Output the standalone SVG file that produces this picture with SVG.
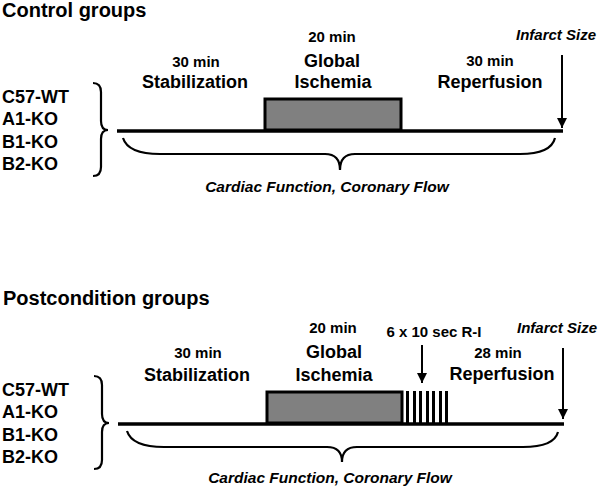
<svg xmlns="http://www.w3.org/2000/svg" width="600" height="488" viewBox="0 0 600 488">
<style>
text{font-family:"Liberation Sans",Arial,sans-serif;font-weight:bold;fill:#000}
.title{font-size:20px}
.grp{font-size:18px}
.big{font-size:18px;text-anchor:middle}
.small{font-size:15px;text-anchor:middle}
.it{font-style:italic;font-size:15px}
.itc{font-style:italic;font-size:15.5px;text-anchor:middle}
.axis{stroke:#000;stroke-width:3.5;fill:none}
.brace{stroke:#000;stroke-width:2.2;fill:none}
.box{fill:#808080;stroke:#000;stroke-width:3}
.arr{stroke:#000;stroke-width:2;fill:none}
.bar{fill:#000}
</style>
<defs>
<marker id="ah" viewBox="0 0 10 10" refX="10" refY="5" markerWidth="5" markerHeight="5" orient="auto" markerUnits="strokeWidth">
<path d="M0,0 L10,5 L0,10 z" fill="#000"/>
</marker>
</defs>

<g id="control">
<text class="title" x="2" y="17">Control groups</text>
<g id="control-groups-list">
<text class="grp" x="2" y="103">C57-WT</text>
<text class="grp" x="2" y="125">A1-KO</text>
<text class="grp" x="2" y="148">B1-KO</text>
<text class="grp" x="2" y="170">B2-KO</text>
</g>
<g id="control-stab">
<text class="small" x="196" y="67">30 min</text>
<text class="big" x="195" y="88">Stabilization</text>
</g>
<g id="control-isch">
<rect class="box" x="265" y="99" width="136" height="31"/>
<text class="small" x="332" y="42">20 min</text>
<text class="big" x="332" y="67">Global</text>
<text class="big" x="333" y="88">Ischemia</text>
</g>
<g id="control-rep">
<text class="small" x="490" y="66">30 min</text>
<text class="big" x="490" y="88">Reperfusion</text>
</g>
<g id="control-infarct">
<text class="it" x="516" y="40">Infarct Size</text>
</g>
<g id="control-func">
<text class="itc" x="327" y="192">Cardiac Function, Coronary Flow</text>
</g>
</g>

<g id="post">
<text class="title" x="3" y="305">Postcondition groups</text>
<g id="post-groups-list">
<text class="grp" x="2" y="396">C57-WT</text>
<text class="grp" x="2" y="418">A1-KO</text>
<text class="grp" x="2" y="441">B1-KO</text>
<text class="grp" x="2" y="463">B2-KO</text>
</g>
<g id="post-stab">
<text class="small" x="198" y="358">30 min</text>
<text class="big" x="197" y="381">Stabilization</text>
</g>
<g id="post-isch">
<rect class="box" x="267" y="392" width="135" height="31"/>
<text class="small" x="333" y="333">20 min</text>
<text class="big" x="334" y="358">Global</text>
<text class="big" x="334" y="381">Ischemia</text>
</g>
<g id="post-ri">
<rect class="bar" x="406" y="391" width="3" height="33"/>
<rect class="bar" x="413" y="391" width="3" height="33"/>
<rect class="bar" x="419" y="391" width="3" height="33"/>
<rect class="bar" x="426" y="391" width="3" height="33"/>
<rect class="bar" x="432" y="391" width="3" height="33"/>
<rect class="bar" x="439" y="391" width="3" height="33"/>
<rect class="bar" x="445" y="391" width="3" height="33"/>
<text class="small" x="434" y="337">6 x 10 sec R-I</text>
</g>
<g id="post-rep">
<text class="small" x="498" y="358">28 min</text>
<text class="big" x="502" y="380">Reperfusion</text>
</g>
<g id="post-infarct">
<text class="it" x="517" y="333">Infarct Size</text>
</g>
<g id="post-func">
<text class="itc" x="330" y="483">Cardiac Function, Coronary Flow</text>
</g>
</g>

<g id="connectors">
<line class="axis" x1="117" y1="131" x2="563" y2="131"/>
<line class="axis" x1="118" y1="424" x2="564" y2="424"/>
<path class="brace" d="M93,83 Q101,83 101,92 L101,121 Q101,130 108,130 Q101,130 101,139 L101,167 Q101,176 93,176"/>
<path class="brace" d="M94,376 Q102,376 102,385 L102,414 Q102,423 109,423 Q102,423 102,432 L102,460 Q102,469 94,469"/>
<path class="brace" d="M123,138 Q128,154 160,154 L325,154 Q340,154 340,170 Q340,154 355,154 L520,154 Q551,154 555,138"/>
<path class="brace" d="M127,431 Q132,447 164,447 L327,447 Q342,447 342,462 Q342,447 357,447 L523,447 Q554,447 558,432"/>
<line class="arr" x1="562" y1="55" x2="562" y2="128" marker-end="url(#ah)"/>
<line class="arr" x1="563" y1="348" x2="563" y2="419" marker-end="url(#ah)"/>
<line class="arr" x1="422" y1="345" x2="422" y2="383" marker-end="url(#ah)"/>
</g>
</svg>
